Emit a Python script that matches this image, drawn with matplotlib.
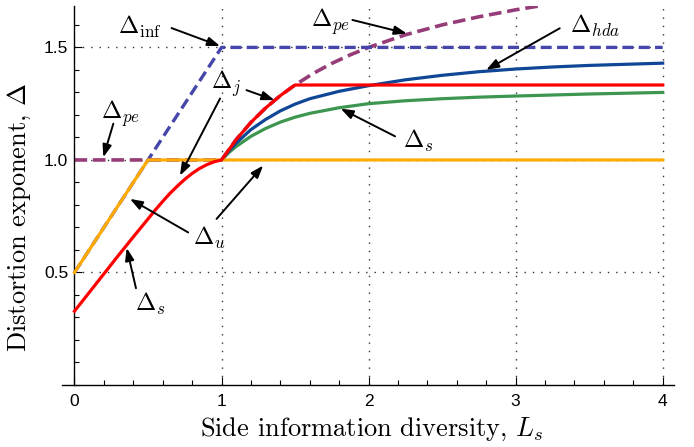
import numpy as np
import matplotlib
matplotlib.use("Agg")
from matplotlib import pyplot as plt
from matplotlib.ticker import MultipleLocator

plt.rcParams['mathtext.fontset'] = 'cm'
plt.rcParams['font.serif'] = ['cmr10', 'DejaVu Serif']
plt.rcParams['axes.formatter.use_mathtext'] = True

# curves
x_u = [0.0, 0.5, 4.0]
y_u = [0.5, 1.0, 1.0]

x_inf = [0.0, 1.0, 4.0]
y_inf = [0.5, 1.5, 1.5]

x_pe = [0.0, 1.0, 1.1, 1.2, 1.3, 1.4, 1.5, 1.625, 1.75, 1.875, 2.0, 2.25,
        2.5, 2.75, 3.0, 3.15]
y_pe = [1.0, 1.0, 1.091, 1.167, 1.231, 1.286, 1.333, 1.385, 1.429, 1.467,
        1.5, 1.556, 1.6, 1.636, 1.667, 1.683]

x_j = [0.0, 0.1, 0.2, 0.3, 0.4, 0.5, 0.55, 0.6, 0.65, 0.7, 0.75, 0.8, 0.85,
       0.9, 0.95, 1.0, 1.1, 1.2, 1.3, 1.4, 1.5, 4.0]
y_j = [0.328, 0.411, 0.494, 0.577, 0.658, 0.738, 0.778, 0.816, 0.852, 0.884,
       0.914, 0.94, 0.962, 0.979, 0.992, 1.0, 1.091, 1.167, 1.231, 1.286,
       1.333, 1.333]

x_hda = [1.0, 1.05, 1.1, 1.2, 1.3, 1.4, 1.5, 1.6, 1.8, 2.0, 2.25, 2.5, 2.75,
         3.0, 3.25, 3.5, 3.75, 4.0]
y_hda = [1.0, 1.04, 1.075, 1.135, 1.18, 1.218, 1.248, 1.272, 1.305, 1.33,
         1.356, 1.376, 1.392, 1.404, 1.413, 1.42, 1.425, 1.43]

x_s = [1.0, 1.05, 1.1, 1.2, 1.3, 1.4, 1.5, 1.6, 1.8, 2.0, 2.25, 2.5, 2.75,
       3.0, 3.5, 4.0]
y_s = [1.0, 1.033, 1.06, 1.105, 1.14, 1.168, 1.19, 1.207, 1.232, 1.25,
       1.263, 1.272, 1.279, 1.284, 1.293, 1.30]

grid_x = [1, 2, 3, 4]
grid_y = [0.5, 1.0, 1.5]

# (label, text position, list of (tail, head))
notes = [
    (r"$\Delta_{\mathrm{inf}}$", (0.445, 1.59), [((0.66, 1.586), (0.99, 1.506))]),
    (r"$\Delta_{pe}$", (1.745, 1.615), [((1.89, 1.622), (2.26, 1.562))]),
    (r"$\Delta_{hda}$", (3.54, 1.595), [((3.30, 1.585), (2.80, 1.40))]),
    (r"$\Delta_j$", (1.03, 1.34), [((1.17, 1.31), (1.36, 1.266)),
                                   ((0.99, 1.273), (0.717, 0.93))]),
    (r"$\Delta_s$", (2.335, 1.085), [((2.18, 1.105), (1.81, 1.228))]),
    (r"$\Delta_{pe}$", (0.316, 1.205), [((0.264, 1.161), (0.196, 1.012))]),
    (r"$\Delta_u$", (0.914, 0.655), [((0.773, 0.678), (0.377, 0.827)),
                                     ((0.966, 0.738), (1.283, 0.975))]),
    (r"$\Delta_s$", (0.513, 0.36), [((0.418, 0.43), (0.355, 0.609))]),
]

fig = plt.figure(figsize=(6.94, 4.47), dpi=100)
ax = fig.add_axes([62 / 694, (447 - 385) / 447, 612 / 694, 379 / 447])

ax.vlines(grid_x, 0, 1.684, colors="0.2", linestyles=(0, (1, 5)), lw=1.0, zorder=1)
ax.hlines(grid_y, 0, 4, colors="0.2", linestyles=(0, (1, 5)), lw=1.0, zorder=1)

ax.plot(x_pe, y_pe, color="#963C78", lw=2.6, dashes=(3.5, 1.6), zorder=2)
ax.plot(x_inf, y_inf, color="#4646AA", lw=2.4, dashes=(3.3, 1.6), zorder=2)
ax.plot(x_s, y_s, color="#3C9650", lw=2.3, zorder=3)
ax.plot(x_hda, y_hda, color="#0F4696", lw=2.3, zorder=3)
ax.plot(x_u, y_u, color="#FFAA00", lw=2.3, zorder=4)
ax.plot(x_j, y_j, color="#FF0000", lw=2.3, zorder=5)

for label, pos, arrows in notes:
    ax.text(pos[0], pos[1], label, fontsize=17.5, ha="center", va="center", zorder=6)
    for tail, head in arrows:
        ax.annotate("", xy=head, xytext=tail, zorder=6,
                    arrowprops=dict(arrowstyle="-|>,head_length=0.75,head_width=0.27",
                                    color="black", lw=1.4, shrinkA=0, shrinkB=0))

ax.set_xlim(-0.085, 4.077)
ax.set_ylim(0, 1.684)
ax.spines['top'].set_visible(False)
ax.spines['right'].set_visible(False)
ax.spines['left'].set_position(('data', 0))
ax.spines['left'].set_linewidth(1.0)
ax.spines['bottom'].set_linewidth(1.0)

ax.set_xticks([0, 1, 2, 3, 4])
ax.set_xticklabels(["0", "1", "2", "3", "4"])
ax.set_yticks([0.5, 1.0, 1.5])
ax.set_yticklabels(["0.5", "1.0", "1.5"])
ax.xaxis.set_minor_locator(MultipleLocator(0.2))
ax.yaxis.set_minor_locator(MultipleLocator(0.1))
ax.tick_params(which="major", direction="in", length=6, width=0.8)
ax.tick_params(which="minor", direction="in", length=3.5, width=0.8)
ax.tick_params(axis="x", which="major", pad=6.5)
ax.tick_params(axis="y", which="major", pad=4.5)
for t in ax.get_xticklabels() + ax.get_yticklabels():
    t.set_fontfamily("Liberation Sans")
    t.set_fontsize(12.5)

ax.set_xlabel(r"Side information diversity, $L_s$", fontsize=19, family="serif")
ax.set_ylabel(r"Distortion exponent, $\Delta$", fontsize=19, family="serif")
ax.xaxis.set_label_coords(0.506, -0.082)
ax.yaxis.set_label_coords(-0.047, 0.443)

fig.savefig("out.png", dpi=100)
